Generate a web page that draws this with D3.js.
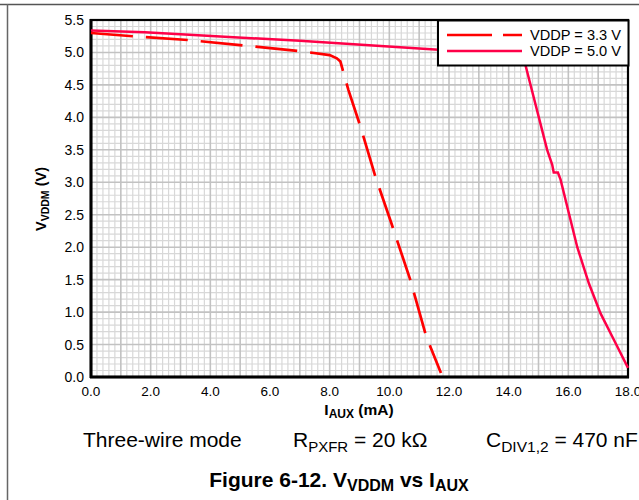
<!DOCTYPE html>
<html><head><meta charset="utf-8">
<script src="https://cdn.jsdelivr.net/npm/d3@7/dist/d3.min.js"></script>
<style>
body{margin:0;background:#fff;}
svg{display:block;font-family:"Liberation Sans",Arial,sans-serif;}
</style></head>
<body>
<svg id="chart" width="639" height="500"></svg>
<script>
// ---- data ----
const seriesNames = ["VDDP = 3.3 V", "VDDP = 5.0 V"];
const iaux33 = [0, 1.4, 3.3, 7.0, 8.0, 8.24, 8.36, 8.47, 8.63, 9.03, 9.53, 10.06, 10.7, 11.24, 11.73];
const vddm33 = [5.30, 5.25, 5.19, 5.02, 4.96, 4.91, 4.86, 4.68, 4.42, 3.86, 3.09, 2.38, 1.50, 0.62, 0.06];
const iaux50 = [0, 1.8, 7.0, 11.65, 14.3, 14.56, 15.29, 15.46, 15.51, 15.65, 15.74, 16.02, 16.30, 16.69, 17.08, 17.53, 18.0];
const vddm50 = [5.34, 5.31, 5.18, 5.04, 4.98, 4.81, 3.50, 3.27, 3.15, 3.15, 3.04, 2.52, 2.00, 1.44, 0.98, 0.57, 0.14];
const xTicks = [0, 2, 4, 6, 8, 10, 12, 14, 16, 18];
const yTicks = [0, 0.5, 1.0, 1.5, 2.0, 2.5, 3.0, 3.5, 4.0, 4.5, 5.0, 5.5];

const svg = d3.select("#chart");
const x = d3.scaleLinear().domain([0, 18]).range([91, 628]);
const y = d3.scaleLinear().domain([0, 5.5]).range([377, 20]);

// figure frame
svg.append("line").attr("x1",0).attr("x2",639).attr("y1",4.5).attr("y2",4.5).attr("stroke","#555").attr("stroke-width",1.5);
svg.append("line").attr("x1",7.5).attr("x2",7.5).attr("y1",4).attr("y2",500).attr("stroke","#666").attr("stroke-width",1.5);

// grid
const g = svg.append("g");
const minorX = d3.range(0, 90).map(i => i*0.2).filter(v => Math.abs(v - Math.round(v)) > 1e-6);
const minorY = d3.range(0, 55).map(i => i*0.1).filter(v => Math.abs(v*2 - Math.round(v*2)) > 1e-6);
const majorX = d3.range(1, 18);
const majorY = d3.range(1, 11).map(i => i*0.5);
g.selectAll(".mnx").data(minorX).join("line").attr("x1",d=>x(d)).attr("x2",d=>x(d)).attr("y1",y(0)).attr("y2",y(5.5)).attr("stroke","#d8d8d8").attr("stroke-width",1.2);
g.selectAll(".mny").data(minorY).join("line").attr("y1",d=>y(d)).attr("y2",d=>y(d)).attr("x1",x(0)).attr("x2",x(18)).attr("stroke","#d8d8d8").attr("stroke-width",1.2);
g.selectAll(".mjx").data(majorX).join("line").attr("x1",d=>x(d)).attr("x2",d=>x(d)).attr("y1",y(0)).attr("y2",y(5.5)).attr("stroke","#c2c2c2").attr("stroke-width",1.6);
g.selectAll(".mjy").data(majorY).join("line").attr("y1",d=>y(d)).attr("y2",d=>y(d)).attr("x1",x(0)).attr("x2",x(18)).attr("stroke","#c2c2c2").attr("stroke-width",1.6);

// plot frame
svg.append("rect").attr("x",x(0)).attr("y",y(5.5)).attr("width",x(18)-x(0)).attr("height",y(0)-y(5.5)).attr("fill","none").attr("stroke","#000").attr("stroke-width",2.2);
svg.append("line").attr("x1",x(0)).attr("x2",x(0)).attr("y1",y(5.5)-1).attr("y2",y(0)+1).attr("stroke","#000").attr("stroke-width",3);
svg.append("line").attr("x1",x(0)-1).attr("x2",x(18)+1).attr("y1",y(0)).attr("y2",y(0)).attr("stroke","#000").attr("stroke-width",3);

// lines
const line = d3.line().x(d=>x(d[0])).y(d=>y(d[1]));
const d33 = iaux33.map((v,i)=>[v, vddm33[i]]);
const d50 = iaux50.map((v,i)=>[v, vddm50[i]]);
svg.append("path").attr("d", line(d50)).attr("fill","none").attr("stroke","#ff0048").attr("stroke-width",2.5);
svg.append("path").attr("d", line(d33)).attr("fill","none").attr("stroke","#ff0000").attr("stroke-width",2.7).attr("stroke-dasharray","42,13");

// ticks labels
svg.append("g").selectAll("text").data(yTicks).join("text")
  .attr("x", 84).attr("y", d=>y(d)+5).attr("text-anchor","end").attr("font-size",14).attr("fill","#000")
  .text(d=>d.toFixed(1));
svg.append("g").selectAll("text").data(xTicks).join("text")
  .attr("x", d=>x(d)).attr("y", 396).attr("text-anchor","middle").attr("font-size",13.5).attr("fill","#000")
  .text(d=>d.toFixed(1));

// axis titles
const xt = svg.append("text").attr("x", 359).attr("y", 415).attr("text-anchor","middle").attr("font-size",15.5).attr("font-weight","bold");
xt.append("tspan").text("I");
xt.append("tspan").attr("font-size",12).attr("dy",3).text("AUX");
xt.append("tspan").attr("dy",-3).text(" (mA)");
const yt = svg.append("text").attr("transform","translate(46,199) rotate(-90)").attr("text-anchor","middle").attr("font-size",14.5).attr("font-weight","bold");
yt.append("tspan").text("V");
yt.append("tspan").attr("font-size",10.5).attr("dy",3).text("VDDM");
yt.append("tspan").attr("dy",-3).text(" (V)");

// legend
const lg = svg.append("g");
lg.append("rect").attr("x",438).attr("y",20.5).attr("width",190.5).attr("height",45).attr("fill","#fff").attr("stroke","#000").attr("stroke-width",2);
lg.append("line").attr("x1",447).attr("x2",522).attr("y1",35).attr("y2",35).attr("stroke","#ff0000").attr("stroke-width",2.5).attr("stroke-dasharray","45,11");
lg.append("line").attr("x1",447).attr("x2",522).attr("y1",51).attr("y2",51).attr("stroke","#ff0048").attr("stroke-width",2.5);
lg.selectAll(".lt").data(seriesNames).join("text").attr("x",530).attr("y",(d,i)=>40+i*16).attr("font-size",14.6).text(d=>d);

// caption
const cap = svg.append("g").attr("font-size",21);
cap.append("text").attr("x",83).attr("y",447).text("Three-wire mode");
const r = cap.append("text").attr("x",293).attr("y",447);
r.append("tspan").text("R");
r.append("tspan").attr("font-size",15).attr("dy",5).text("PXFR");
r.append("tspan").attr("dy",-5).text(" = 20 kΩ");
const c = cap.append("text").attr("x",486).attr("y",447);
c.append("tspan").text("C");
c.append("tspan").attr("font-size",15.5).attr("dy",5).text("DIV1,2");
c.append("tspan").attr("dy",-5).text(" = 470 nF");
const f = svg.append("text").attr("x",339).attr("y",487).attr("text-anchor","middle").attr("font-size",21).attr("font-weight","bold");
f.append("tspan").text("Figure 6-12. V");
f.append("tspan").attr("font-size",16).attr("dy",4).text("VDDM");
f.append("tspan").attr("dy",-4).text(" vs I");
f.append("tspan").attr("font-size",16).attr("dy",4).text("AUX");
</script>
</body></html>
